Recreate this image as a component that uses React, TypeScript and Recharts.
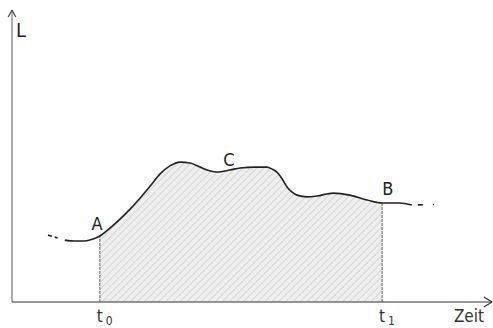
import React from 'react';
import { ComposedChart, Line, Area, XAxis, YAxis, ReferenceLine, ReferenceDot } from 'recharts';

// Zeitachse (0..100) und Leistung L (0..100)
const zeit = [11.0, 13.1, 15.2, 16.9, 18.3, 20.4, 22.5, 24.6, 26.7, 28.8, 30.8, 32.9, 35.0, 37.1, 39.2, 40.6, 42.7, 45.4, 47.5, 50.6, 53.1, 54.2, 55.2, 56.3, 57.3, 58.3, 59.4, 61.5, 63.5, 66.9, 70.4, 74.0, 77.1, 80.8, 83.3];
const leistung = [21.2, 20.9, 20.9, 21.6, 22.6, 25.3, 28.4, 31.8, 35.6, 39.7, 43.8, 46.6, 47.9, 47.6, 46.2, 45.2, 44.5, 45.2, 45.9, 46.2, 46.2, 45.5, 44.5, 42.1, 39.4, 37.7, 36.6, 36.0, 36.3, 37.3, 36.6, 34.9, 33.9, 33.9, 33.2];

const linksZeit = [7.5, 11.0];
const linksWert = [22.9, 21.2];
const rechtsZeit = [83.3, 87.9];
const rechtsWert = [33.2, 33.4];

const t0 = 18.3;
const t1 = 77.1;
const zeitTick = 95.2;
const achsenTicks = [t0, t1, zeitTick];

const punktNamen = ['A', 'C', 'B', 'L'];
const punktZeit = [17.7, 45.2, 78.3, 1.9];
const punktWert = [26.7, 48.6, 39.0, 93.2];

const kurve = zeit.map((t, i) => ({ t, L: leistung[i] }));
const flaeche = kurve.filter((d) => d.t >= t0 && d.t <= t1);
const links = linksZeit.map((t, i) => ({ t, L: linksWert[i] }));
const rechts = rechtsZeit.map((t, i) => ({ t, L: rechtsWert[i] }));

const FONT = "'Liberation Sans Narrow', 'DejaVu Sans Condensed', 'Liberation Sans', sans-serif";

const Tick = (props: any) => {
  const { x, y, payload } = props;
  const v = payload.value;
  if (v === zeitTick) {
    return (
      <text x={x} y={y + 20} textAnchor="middle" fontSize={17} fill="#333" fontFamily={FONT}>
        Zeit
      </text>
    );
  }
  const sub = v === t0 ? '0' : '1';
  return (
    <text x={x - 3} y={y + 20} textAnchor="start" fontSize={17} fill="#333" fontFamily={FONT}>
      t
      <tspan dx={3} dy={3} fontSize={12}>
        {sub}
      </tspan>
    </text>
  );
};

export default function App() {
  return (
    <div style={{ position: 'absolute', left: 0, top: 0, background: '#fff' }}>
      <ComposedChart width={493} height={328} margin={{ top: 10, right: 1, left: 12, bottom: 0 }} data={kurve}>
        <defs>
          <pattern id="schraffur" patternUnits="userSpaceOnUse" width="5" height="5" patternTransform="rotate(45)">
            <rect width="5" height="5" fill="#efefef" />
            <line x1="0" y1="0" x2="0" y2="5" stroke="#c4c4c4" strokeWidth="1.2" />
          </pattern>
        </defs>
        <XAxis
          dataKey="t"
          type="number"
          domain={[0, 100]}
          ticks={achsenTicks}
          interval={0}
          tickLine={false}
          tickSize={0}
          tickMargin={0}
          height={26}
          axisLine={{ stroke: '#333', strokeWidth: 1.2 }}
          tick={<Tick />}
          allowDataOverflow
        />
        <YAxis type="number" domain={[0, 100]} hide allowDataOverflow />
        <Area
          data={flaeche}
          dataKey="L"
          type="monotone"
          fill="url(#schraffur)"
          fillOpacity={1}
          stroke="none"
          isAnimationActive={false}
          dot={false}
          activeDot={false}
        />
        <ReferenceLine segment={[{ x: 0, y: 0 }, { x: 0, y: 100 }]} stroke="#666" strokeWidth={1.1} ifOverflow="visible" />
        <ReferenceLine segment={[{ x: t0, y: 0 }, { x: t0, y: 22.6 }]} stroke="#666" strokeDasharray="3 1" />
        <ReferenceLine segment={[{ x: t1, y: 0 }, { x: t1, y: 33.9 }]} stroke="#666" strokeDasharray="3 1" />
        <ReferenceLine segment={[{ x: 98.3, y: 1.7 }, { x: 100, y: 0 }]} stroke="#333" strokeWidth={1.2} ifOverflow="visible" />
        <ReferenceLine segment={[{ x: 98.3, y: -1.7 }, { x: 100, y: 0 }]} stroke="#333" strokeWidth={1.2} ifOverflow="visible" />
        <ReferenceLine segment={[{ x: -0.8, y: 97.6 }, { x: 0, y: 100 }]} stroke="#444" strokeWidth={1.2} ifOverflow="visible" />
        <ReferenceLine segment={[{ x: 0.8, y: 97.6 }, { x: 0, y: 100 }]} stroke="#444" strokeWidth={1.2} ifOverflow="visible" />
        <Line
          dataKey="L"
          type="monotone"
          stroke="#222"
          strokeWidth={1.6}
          dot={false}
          activeDot={false}
          isAnimationActive={false}
        />
        <Line
          data={links}
          dataKey="L"
          type="linear"
          stroke="#222"
          strokeWidth={1.6}
          strokeDasharray="4 3 3 20"
          dot={false}
          activeDot={false}
          isAnimationActive={false}
        />
        <Line
          data={rechts}
          dataKey="L"
          type="linear"
          stroke="#222"
          strokeWidth={1.6}
          strokeDasharray="0 6 5 10 2 40"
          dot={false}
          activeDot={false}
          isAnimationActive={false}
        />
        {punktNamen.map((name, i) => (
          <ReferenceDot
            key={name}
            x={punktZeit[i]}
            y={punktWert[i]}
            r={1}
            fill="none"
            stroke="none"
            ifOverflow="visible"
            label={{
              value: name,
              position: 'center',
              fontSize: name === 'L' ? 20 : 18,
              fill: '#222',
              fontFamily: FONT,
            }}
          />
        ))}
      </ComposedChart>
    </div>
  );
}
